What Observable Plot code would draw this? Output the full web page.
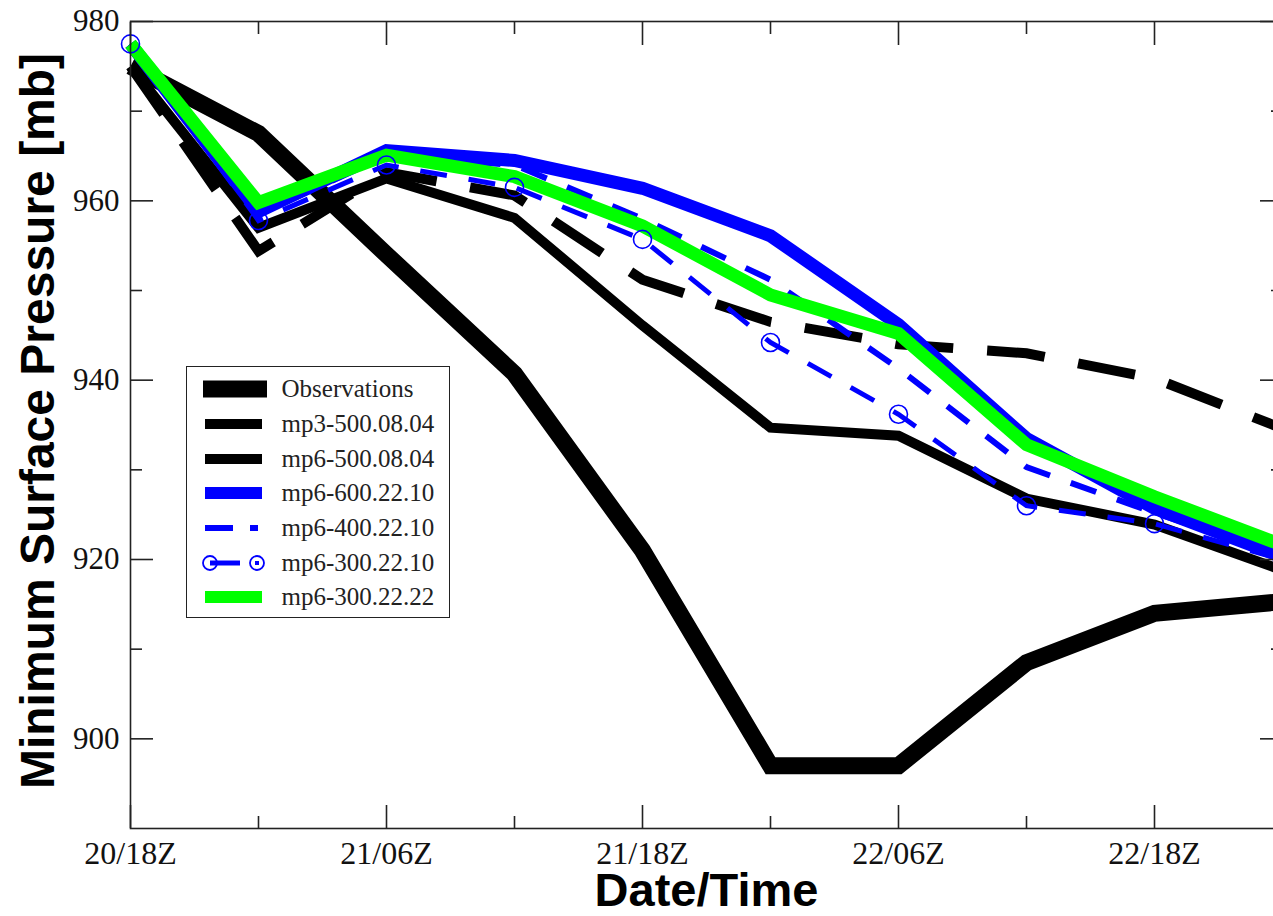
<!DOCTYPE html>
<html>
<head>
<meta charset="utf-8">
<script src="https://cdn.jsdelivr.net/npm/d3@7"></script>
<script src="https://cdn.jsdelivr.net/npm/@observablehq/plot@0.6"></script>
<style>
  html, body { margin: 0; padding: 0; background: #fff; overflow: hidden; }
  #wrap { position: relative; width: 1273px; height: 916px; }
  #legend { position: absolute; left: 186px; top: 366px; width: 264px; height: 252px;
            border: 1.5px solid #222; background: #fff; box-sizing: border-box; padding-top: 5px; }
  .row { display: flex; align-items: center; height: 34.7px; }
  .row svg { width: 70px; height: 26px; margin-left: 12.5px; flex: none; }
  .row span { font-family: "Liberation Serif", "Times New Roman", serif; font-size: 25px; color: #222; margin-left: 12px; white-space: nowrap; }
</style>
</head>
<body>
<div id="wrap"></div>
<script>
// ---- data (hours after 20/18Z, every 6 h) ----
const hours = [0, 6, 12, 18, 24, 30, 36, 42, 48, 54];
const observations = [975.0, 967.5, 954.0, 940.7, 921.0, 897.0, 897.0, 908.5, 914.0, 915.3];
const mp3_500_08_04 = [975.0, 954.4, 963.2, 960.6, 951.2, 946.5, 944.0, 943.0, 940.2, 934.6];
const mp6_500_08_04 = [975.0, 957.0, 962.5, 958.1, 946.1, 934.7, 933.8, 926.8, 923.9, 918.8];
const mp6_600_22_10 = [977.5, 958.8, 965.6, 964.5, 961.4, 956.1, 946.2, 933.5, 925.7, 920.3];
const mp6_400_22_10 = [977.5, 958.5, 965.0, 964.0, 958.0, 951.2, 941.3, 930.3, 925.2, 920.5];
const mp6_300_22_10 = [977.5, 957.8, 964.0, 961.5, 955.7, 944.2, 936.2, 926.0, 924.0, 920.0];
const mp6_300_22_22 = [977.5, 959.8, 965.1, 962.7, 957.2, 949.5, 945.2, 932.8, 927.0, 921.6];

const seriesNames = ["Observations", "mp3-500.08.04", "mp6-500.08.04", "mp6-600.22.10",
                     "mp6-400.22.10", "mp6-300.22.10", "mp6-300.22.22"];
const seriesValues = [observations, mp3_500_08_04, mp6_500_08_04, mp6_600_22_10,
                      mp6_400_22_10, mp6_300_22_10, mp6_300_22_22];

const xMajorTicks = [0, 12, 24, 36, 48];
const xMinorTicks = [6, 18, 30, 42, 54];
const xTickLabels = ["20/18Z", "21/06Z", "21/18Z", "22/06Z", "22/18Z"];
const yMajorTicks = [900, 920, 940, 960, 980];
const yMinorTicks = [910, 930, 950, 970];
const xTitle = "Date/Time";
const yTitle = "Minimum Surface Pressure [mb]";

// ---- styles ----
const styles = [
  {stroke: "#000", width: 17, dash: null},
  {stroke: "#000", width: 10, dash: "58,34"},
  {stroke: "#000", width: 10, dash: null},
  {stroke: "#0000ff", width: 13, dash: null},
  {stroke: "#0000ff", width: 6, dash: "27,22"},
  {stroke: "#0000ff", width: 5, dash: "27,22", marker: true},
  {stroke: "#00ff00", width: 13, dash: null}
];

const table = seriesNames.map((name, s) =>
  hours.map((h, i) => ({hour: h, value: seriesValues[s][i], series: name})));

const lineMarks = table.map((rows, s) => Plot.line(rows, {
  x: "hour", y: "value",
  stroke: styles[s].stroke, strokeWidth: styles[s].width,
  strokeDasharray: styles[s].dash, strokeLinejoin: "miter",
  strokeLinecap: "butt", strokeMiterlimit: 10
}));
const markerMarks = table.map((rows, s) => styles[s].marker ? Plot.dot(rows, {
  x: "hour", y: "value", r: 9, stroke: styles[s].stroke, strokeWidth: 1.6, fill: "none"
}) : null).filter(Boolean);

const serif = "Liberation Serif, Times New Roman, serif";
const sans = "Liberation Sans, Arial, Helvetica, sans-serif";
const tickStyle = {fill: "none", label: null, stroke: "#222", strokeWidth: 1.6};

const chart = Plot.plot({
  width: 1273, height: 916,
  marginLeft: 130, marginRight: -9, marginTop: 21, marginBottom: 88,
  x: {domain: [0, 54]},
  y: {domain: [890, 980]},
  style: {background: "white", color: "#222"},
  marks: [
    ...lineMarks,
    ...markerMarks,
    Plot.frame({stroke: "#222", strokeWidth: 1.6}),
    Plot.axisX(xMajorTicks, {anchor: "bottom", tickSize: -23, ...tickStyle}),
    Plot.axisX(xMinorTicks, {anchor: "bottom", tickSize: -12, ...tickStyle}),
    Plot.axisX(xMajorTicks, {anchor: "top", tickSize: -23, ...tickStyle}),
    Plot.axisX(xMinorTicks, {anchor: "top", tickSize: -12, ...tickStyle}),
    Plot.axisY(yMajorTicks, {anchor: "left", tickSize: -23, ...tickStyle}),
    Plot.axisY(yMinorTicks, {anchor: "left", tickSize: -12, ...tickStyle}),
    Plot.axisY(yMajorTicks, {anchor: "right", tickSize: -23, ...tickStyle}),
    Plot.axisY(yMinorTicks, {anchor: "right", tickSize: -12, ...tickStyle}),
    Plot.axisX(xMajorTicks, {anchor: "bottom", tickSize: 0, tickPadding: 13, label: null,
      tickFormat: d => xTickLabels[xMajorTicks.indexOf(d)],
      fontSize: 32, fontFamily: serif, fill: "#111"}),
    Plot.axisY(yMajorTicks, {anchor: "left", tickSize: 0, tickPadding: 11, label: null,
      tickFormat: d => String(d), fontSize: 31, fontFamily: serif, fill: "#111"}),
    Plot.text([yTitle], {text: d => d, frameAnchor: "left", dx: -92, dy: -4, rotate: -90,
      textAnchor: "middle", lineAnchor: "middle",
      fontSize: 48, fontWeight: "bold", fontFamily: sans, fill: "#000"}),
    Plot.text([xTitle], {text: d => d, frameAnchor: "bottom", dy: 62,
      textAnchor: "middle", lineAnchor: "middle",
      fontSize: 47, fontWeight: "bold", fontFamily: sans, fill: "#000"})
  ]
});

const wrap = document.getElementById("wrap");
wrap.appendChild(chart);

// ---- legend ----
const legend = d3.select(wrap).append("div").attr("id", "legend");
seriesNames.forEach((name, s) => {
  const st = styles[s];
  const row = legend.append("div").attr("class", "row");
  const sw = row.append("svg").attr("viewBox", "0 0 70 26");
  if (s === 0) {
    sw.append("line").attr("x1", 3).attr("x2", 67).attr("y1", 13).attr("y2", 13)
      .attr("stroke", st.stroke).attr("stroke-width", 17);
  } else if (s === 4) {
    sw.append("line").attr("x1", 5).attr("x2", 33).attr("y1", 13).attr("y2", 13)
      .attr("stroke", st.stroke).attr("stroke-width", st.width);
    sw.append("line").attr("x1", 50).attr("x2", 58).attr("y1", 13).attr("y2", 13)
      .attr("stroke", st.stroke).attr("stroke-width", st.width);
  } else if (s === 5) {
    sw.append("line").attr("x1", 10).attr("x2", 40).attr("y1", 13).attr("y2", 13)
      .attr("stroke", st.stroke).attr("stroke-width", st.width);
    [10, 57].forEach(cx => sw.append("circle").attr("cx", cx).attr("cy", 13).attr("r", 7)
      .attr("fill", "none").attr("stroke", st.stroke).attr("stroke-width", 1.8));
    sw.append("rect").attr("x", 55).attr("y", 11).attr("width", 4).attr("height", 4).attr("fill", st.stroke);
  } else {
    sw.append("line").attr("x1", 5).attr("x2", 62).attr("y1", 13).attr("y2", 13)
      .attr("stroke", st.stroke).attr("stroke-width", s === 3 || s === 6 ? 12 : 10);
  }
  row.append("span").text(name);
});
</script>
</body>
</html>
